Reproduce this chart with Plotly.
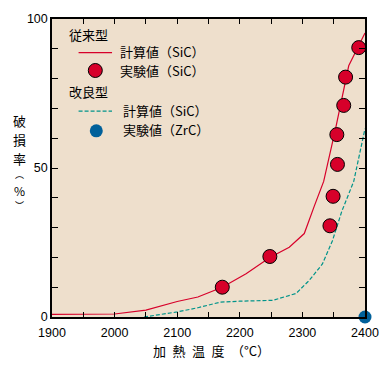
import plotly.graph_objects as go

# ---- data ----
calc_conv_x = [1900, 1950, 2000, 2050, 2100, 2133, 2172, 2210, 2248, 2279, 2303, 2319, 2334, 2353, 2374, 2400]
calc_conv_y = [0.9, 0.9, 1.0, 2.3, 5.2, 6.7, 10.0, 14.5, 20.0, 23.4, 28.0, 37.2, 45.5, 63.2, 84.3, 95.3]

exp_conv_x = [2172, 2248, 2344, 2349, 2356, 2355, 2366, 2369, 2390]
exp_conv_y = [10.0, 20.3, 30.6, 40.5, 51.2, 61.2, 71.0, 80.5, 90.4]

calc_impr_x = [2047, 2100, 2133, 2169, 2200, 2253, 2290, 2311, 2332, 2348, 2363, 2382, 2400]
calc_impr_y = [0.0, 1.7, 3.1, 5.0, 5.3, 5.6, 7.9, 12.3, 17.8, 25.6, 35.5, 45.5, 63.2]

exp_impr_x = [2400]
exp_impr_y = [0]

x_tickvals = list(range(1900, 2401, 50))
x_ticktext = [str(v) if v % 100 == 0 else "" for v in x_tickvals]
y_tickvals = list(range(0, 101, 10))
y_ticktext = [str(v) if v % 50 == 0 else "" for v in y_tickvals]

RED = "#D7002A"
BLUE = "#00609A"
GREEN = "#00948A"
BG = "#EEDFCC"
FONT = "Noto Sans CJK JP"
TICKFONT = "Liberation Sans"

W, H = 391, 368
L, R, T, B = 52, 21, 16, 51
PW, PH = W - L - R, H - T - B


def px(xp):
    return (xp - L) / PW


def py(yp):
    return (H - B - yp) / PH


fig = go.Figure()
fig.add_trace(go.Scatter(x=calc_conv_x, y=calc_conv_y, mode="lines",
                         line=dict(color=RED, width=1.2), showlegend=False))
fig.add_trace(go.Scatter(x=calc_impr_x, y=calc_impr_y, mode="lines",
                         line=dict(color=GREEN, width=1.2, dash="4px,2px"), showlegend=False))
fig.add_trace(go.Scatter(x=exp_conv_x, y=exp_conv_y, mode="markers",
                         marker=dict(color=RED, size=14, line=dict(color="black", width=1)),
                         showlegend=False))
fig.add_trace(go.Scatter(x=exp_impr_x, y=exp_impr_y, mode="markers", cliponaxis=False,
                         marker=dict(color=BLUE, size=13, line=dict(width=0)),
                         showlegend=False))

# ---- manual legend ----
shapes = [
    dict(type="line", xref="paper", yref="paper", x0=px(79), x1=px(113), y0=py(50), y1=py(50),
         line=dict(color=RED, width=1.2)),
    dict(type="line", xref="paper", yref="paper", x0=px(79), x1=px(113), y0=py(109), y1=py(109),
         line=dict(color=GREEN, width=1.2, dash="4px,2px")),
    dict(type="circle", xref="paper", yref="paper", xsizemode="pixel", ysizemode="pixel",
         xanchor=px(96), yanchor=py(68), x0=-7, x1=7, y0=-7, y1=7,
         fillcolor=RED, line=dict(color="black", width=1)),
    dict(type="circle", xref="paper", yref="paper", xsizemode="pixel", ysizemode="pixel",
         xanchor=px(97), yanchor=py(129), x0=-6.5, x1=6.5, y0=-6.5, y1=6.5,
         fillcolor=BLUE, line=dict(width=0)),
]

tf = dict(family=FONT, size=13, color="black")
annotations = [
    dict(text="従来型", x=px(67), y=py(31.5)),
    dict(text="計算値（SiC）", x=px(119), y=py(48.5)),
    dict(text="実験値（SiC）", x=px(119), y=py(67.8)),
    dict(text="改良型", x=px(67), y=py(89.5)),
    dict(text="計算値（SiC）", x=px(122), y=py(108.5)),
    dict(text="実験値（ZrC）", x=px(122), y=py(128)),
]
for a in annotations:
    a.update(xanchor="left", yanchor="middle", font=tf)
# vertical y-axis title, one character per line
ytitle_chars = ["破", "損", "率", "︵", "%", "︶"]
ytitle_pos = [119, 138.2, 157.4, 173.5, 189, 204.5]
ytitle_size = [13, 13, 13, 9, 12, 9]
for ch, yp, sz in zip(ytitle_chars, ytitle_pos, ytitle_size):
    annotations.append(dict(text=ch, x=px(19), y=py(yp), xanchor="center", yanchor="middle",
                            font=dict(family=FONT, size=sz, color="black")))
annotations.append(dict(text="加\u2002熱\u2002温\u2002度\u2002（°C）", x=px(214), y=py(351),
                        xanchor="center", yanchor="middle", font=tf))
for a in annotations:
    a.update(xref="paper", yref="paper", showarrow=False)

axis_common = dict(showline=True, linecolor="black", linewidth=1.5, mirror="ticks",
                   ticks="inside", tickcolor="black", tickwidth=1.2, showgrid=False,
                   zeroline=False, tickfont=dict(family=TICKFONT, size=12.5, color="black"))

fig.update_layout(
    width=W, height=H,
    margin=dict(l=L, r=R, t=T, b=B),
    paper_bgcolor="white", plot_bgcolor=BG,
    xaxis=dict(range=[1900, 2400], tickvals=x_tickvals, ticktext=x_ticktext, ticklen=5,
               ticklabelstandoff=3, **axis_common),
    yaxis=dict(range=[0, 100], tickvals=y_tickvals, ticktext=y_ticktext, ticklen=6, **axis_common),
    shapes=shapes, annotations=annotations, showlegend=False,
)

fig.write_html("out.html", config={"displayModeBar": False},
               post_script="document.body.style.margin='0';document.body.style.overflow='hidden';")
